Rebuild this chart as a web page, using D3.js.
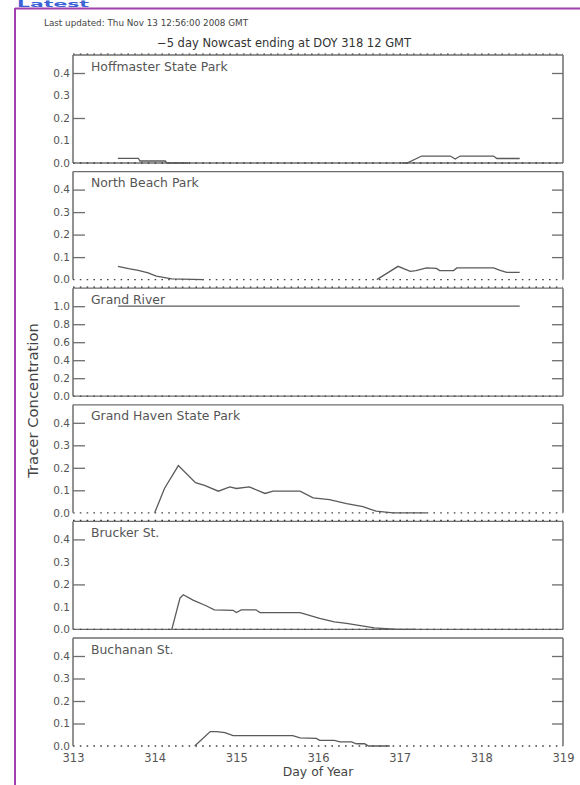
<!DOCTYPE html>
<html><head><meta charset="utf-8">
<script src="https://cdn.jsdelivr.net/npm/d3@7"></script>
<style>
html,body{margin:0;padding:0;background:#fff;}
svg{display:block;}
text{font-family:"DejaVu Sans","Liberation Sans",sans-serif;fill:#333;}
</style></head>
<body>
<svg id="chart" width="580" height="785"></svg>
<script>
// ---------- data ----------
const stations = ["Hoffmaster State Park","North Beach Park","Grand River","Grand Haven State Park","Brucker St.","Buchanan St."];
const dayTicks = [313,314,315,316,317,318,319];
const yMaxes = [0.48,0.48,1.2,0.48,0.48,0.48];
const yTickLabels = [[0,0.1,0.2,0.3,0.4],[0,0.1,0.2,0.3,0.4],[0,0.2,0.4,0.6,0.8,1.0],[0,0.1,0.2,0.3,0.4],[0,0.1,0.2,0.3,0.4],[0,0.1,0.2,0.3,0.4]];
const yTickMarks = [[0.2,0.4],[0.1,0.2,0.3,0.4],[0.2,0.4,0.6,0.8,1.0],[0.1,0.2,0.3,0.4],[0.2,0.4],[0.1,0.2,0.3,0.4]];
// [day of year, tracer concentration]; null = gap
const hoffmaster = [[313.55,0.021],[313.80,0.021],[313.82,0.009],[314.13,0.009],[314.15,0.0],[314.41,0.0],null,
  [317.03,0.0],[317.09,0.0],[317.27,0.031],[317.62,0.031],[317.68,0.018],[317.74,0.031],[318.15,0.031],[318.19,0.02],[318.47,0.02]];
const northBeach = [[313.55,0.059],[313.68,0.049],[313.80,0.041],[313.92,0.030],[314.02,0.015],[314.21,0.003],[314.60,0.0],null,
  [316.72,0.0],[316.98,0.059],[317.13,0.037],[317.20,0.040],[317.33,0.052],[317.45,0.050],[317.49,0.040],[317.66,0.040],[317.70,0.052],[318.15,0.052],[318.23,0.041],[318.31,0.032],[318.47,0.032]];
const grandRiver = [[313.55,1.0],[318.47,1.0]];
const grandHaven = [[314.0,0],[314.12,0.108],[314.29,0.21],[314.5,0.134],[314.61,0.122],[314.78,0.096],[314.92,0.115],[315.0,0.108],[315.16,0.115],[315.35,0.086],[315.45,0.096],[315.78,0.096],[315.94,0.066],[316.14,0.059],[316.35,0.041],[316.55,0.027],[316.71,0.007],[316.92,0.0],[317.33,0.0]];
const brucker = [[314.21,0],[314.31,0.139],[314.35,0.154],[314.47,0.13],[314.63,0.105],[314.73,0.087],[314.96,0.085],[315.0,0.075],[315.06,0.087],[315.24,0.087],[315.29,0.075],[315.78,0.075],[316.02,0.049],[316.2,0.033],[316.35,0.027],[316.69,0.007],[316.97,0],[317.2,0]];
const buchanan = [[314.49,0],[314.68,0.064],[314.76,0.064],[314.86,0.059],[314.96,0.046],[315.69,0.046],[315.78,0.036],[315.98,0.034],[316.02,0.025],[316.2,0.025],[316.27,0.018],[316.41,0.018],[316.47,0.01],[316.57,0.01],[316.62,0],[316.88,0]];
const series = [hoffmaster,northBeach,grandRiver,grandHaven,brucker,buchanan];
const updatedText = "Last updated: Thu Nov 13 12:56:00 2008 GMT";
const titleText = "\u22125 day Nowcast ending at DOY 318 12 GMT";

// ---------- layout ----------
const svg = d3.select("#chart");
const left = 73, right = 563, top0 = 55, pitch = 116.6, ph = 108;
const x = d3.scaleLinear().domain([313,319]).range([left,right]);
const gray = "#6e6e6e";
const tickFont = "DejaVu Sans, Liberation Sans, sans-serif";

// page decoration
svg.append("text").attr("x",17).attr("y",6.5).attr("font-size",8).attr("font-weight","bold")
  .attr("textLength",72).attr("lengthAdjust","spacingAndGlyphs")
  .style("fill","#3b63d6").text("Latest");
svg.append("line").attr("x1",15).attr("x2",580).attr("y1",8.5).attr("y2",8.5).attr("stroke","#a23fae").attr("stroke-width",2);
svg.append("line").attr("x1",15).attr("x2",15).attr("y1",8).attr("y2",785).attr("stroke","#a23fae").attr("stroke-width",2);

svg.append("text").attr("x",44).attr("y",26).attr("font-size",8.8).style("fill","#444").text(updatedText);
svg.append("text").attr("x",157).attr("y",47).attr("font-size",11.5).text(titleText);

const dots = "1.6 5.2";

stations.forEach((name,i)=>{
  const t = top0 + i*pitch, b = t + ph;
  const y = d3.scaleLinear().domain([0,yMaxes[i]]).range([b,t]);
  const g = svg.append("g");
  const solidBox = (i%2===0);
  // top border
  g.append("line").attr("x1",left).attr("x2",right).attr("y1",t).attr("y2",t).attr("stroke",gray).attr("stroke-width",1.3);
  if(solidBox){
    g.append("line").attr("x1",left).attr("x2",right).attr("y1",t-1).attr("y2",t-1).attr("stroke","#333").attr("stroke-width",1.2).attr("stroke-dasharray",dots);
    g.append("line").attr("x1",left).attr("x2",right).attr("y1",b).attr("y2",b).attr("stroke",gray).attr("stroke-width",1.3);
  }
  // zero dotted baseline
  g.append("line").attr("x1",left).attr("x2",right).attr("y1",y(0)).attr("y2",y(0)).attr("stroke","#444").attr("stroke-width",1.3).attr("stroke-dasharray",dots);
  // left axis labels
  const la = g.append("g").attr("transform",`translate(${left},0)`)
    .call(d3.axisLeft(y).tickValues(yTickLabels[i]).tickSize(0).tickPadding(3).tickFormat(d3.format(".1f")));
  la.select(".domain").remove();
  la.selectAll("text").attr("font-size",10.5).style("fill","#555").attr("font-family",tickFont);
  const lt = g.append("g").attr("transform",`translate(${left},0)`)
    .call(d3.axisLeft(y).tickValues(yTickMarks[i]).tickSize(-12).tickFormat(""));
  lt.select(".domain").remove();
  lt.selectAll("line").attr("stroke",gray).attr("stroke-width",1.3);
  const rt = g.append("g").attr("transform",`translate(${right},0)`)
    .call(d3.axisRight(y).tickValues(yTickMarks[i]).tickSize(-11).tickFormat(""));
  rt.select(".domain").remove();
  rt.selectAll("line").attr("stroke",gray).attr("stroke-width",1.3);
  // side borders
  g.append("line").attr("x1",left).attr("x2",left).attr("y1",t).attr("y2",b).attr("stroke",gray).attr("stroke-width",1.5);
  g.append("line").attr("x1",right).attr("x2",right).attr("y1",t).attr("y2",b).attr("stroke",gray).attr("stroke-width",1.5);
  // station name
  g.append("text").attr("x",91).attr("y",t+15.5).attr("font-size",12.4).style("fill","#555").text(name);
  // data line
  const line = d3.line().defined(d=>d!==null).x(d=>x(d[0])).y(d=>y(d[1]));
  g.append("path").datum(series[i]).attr("d",line).attr("fill","none").attr("stroke","#5a5a5a").attr("stroke-width",1.3);
});

// x axis labels
const lastBottom = top0 + 5*pitch + ph;
const xa = svg.append("g").attr("transform",`translate(0,${lastBottom})`)
  .call(d3.axisBottom(x).tickValues(dayTicks).tickSize(0).tickPadding(8).tickFormat(d3.format("d")));
xa.select(".domain").remove();
xa.selectAll("text").attr("font-size",11.5).style("fill","#555").attr("font-family",tickFont);

svg.append("text").attr("x",(left+right)/2).attr("y",776).attr("text-anchor","middle").attr("font-size",12.4).style("fill","#444").text("Day of Year");
svg.append("text").attr("transform",`translate(38,${(top0+lastBottom)/2}) rotate(-90)`).attr("text-anchor","middle").attr("font-size",14.8).style("fill","#444").text("Tracer Concentration");
</script>
</body></html>
